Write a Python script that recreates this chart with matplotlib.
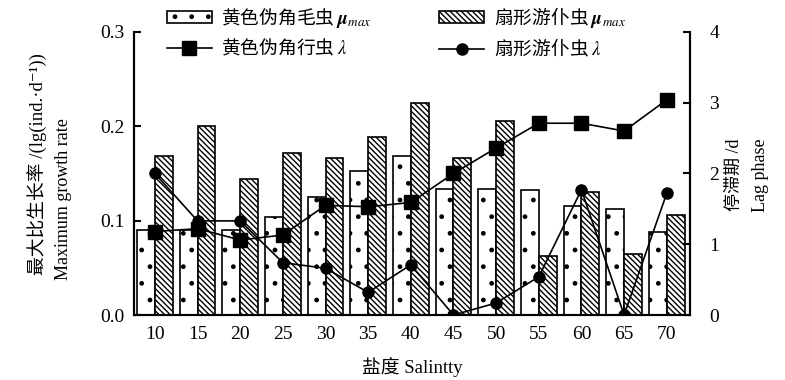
import numpy as np
import matplotlib.pyplot as plt

plt.rcParams['font.family'] = ['Liberation Serif', 'Noto Sans CJK SC', 'DejaVu Serif']
plt.rcParams['mathtext.fontset'] = 'stix'
plt.rcParams['hatch.linewidth'] = 1.0

# ---------- datos ----------
salinidad = [10, 15, 20, 25, 30, 35, 40, 45, 50, 55, 60, 65, 70]
mu_amarillo = [0.090, 0.090, 0.090, 0.104, 0.125, 0.153, 0.168, 0.134, 0.134, 0.132, 0.116, 0.112, 0.088]
mu_abanico = [0.169, 0.200, 0.144, 0.172, 0.166, 0.189, 0.225, 0.166, 0.206, 0.063, 0.130, 0.065, 0.106]
lag_amarillo = [1.18, 1.22, 1.06, 1.13, 1.55, 1.53, 1.59, 2.00, 2.36, 2.71, 2.71, 2.60, 3.04]
lag_abanico = [2.00, 1.33, 1.33, 0.74, 0.66, 0.32, 0.71, 0.0, 0.17, 0.54, 1.77, 0.0, 1.72]

x = np.arange(len(salinidad))
w = 0.42
CJK = ['Noto Sans CJK SC', 'DejaVu Sans']

fig = plt.figure(figsize=(7.85, 3.8), dpi=100)
ax = fig.add_axes([0.1707, 0.171, 0.708, 0.745])
ax2 = ax.twinx()

b1 = ax.bar(x - w / 2, mu_amarillo, w, color='white', edgecolor='black', hatch='.', lw=1.2)
b2 = ax.bar(x + w / 2, mu_abanico, w, color='white', edgecolor='black', hatch='\\\\\\\\\\\\', lw=1.2)

l1, = ax2.plot(x, lag_amarillo, '-s', color='black', ms=10, lw=1.2)
l2, = ax2.plot(x, lag_abanico, '-o', color='black', ms=8, lw=1.2)

ax.set_xlim(-0.49, 12.54)
ax.set_ylim(0, 0.3)
ax2.set_ylim(0, 4)
ax.set_yticks([0.0, 0.1, 0.2, 0.3])
ax.set_yticklabels(['0.0', '0.1', '0.2', '0.3'])
ax2.set_yticks([0, 1, 2, 3, 4])
ax.set_xticks(x)
ax.set_xticklabels([str(s) for s in salinidad])

for a in (ax, ax2):
    a.spines['top'].set_visible(False)
    for sp in a.spines.values():
        sp.set_linewidth(1.5)
    a.tick_params(direction='in', labelsize=14, width=1.5, length=5)
ax.tick_params(axis='x', length=0, pad=8)
ax.tick_params(axis='y', pad=7)
ax2.tick_params(axis='y', pad=14)

ax.set_xlabel('盐度 Salintty', fontsize=13.5, labelpad=10)

# etiquetas de eje en dos líneas
fig.text(0.047, 0.276, '最大比生长率 /(lg(ind.·d⁻¹))', rotation=90,
         ha='center', va='bottom', fontsize=13.5)
fig.text(0.081, 0.262, 'Maximum growth rate', rotation=90,
         ha='center', va='bottom', fontsize=13)
fig.text(0.936, 0.54, '停滞期 /d', rotation=90, ha='center', va='center', fontsize=13)
fig.text(0.969, 0.54, 'Lag phase', rotation=90, ha='center', va='center', fontsize=13)

leg = ax.legend([b1, l1, b2, l2],
                ['黄色伪角毛虫 $\\boldsymbol{\\mu}_{max}$', '黄色伪角行虫 $\\lambda$',
                 '扇形游仆虫 $\\boldsymbol{\\mu}_{max}$', '扇形游仆虫 $\\lambda$'],
                ncol=2, frameon=False, prop={'family': CJK, 'size': 13.5},
                loc='upper left', bbox_to_anchor=(0.059, 1.095),
                borderaxespad=0, borderpad=0,
                handlelength=2.4, handleheight=0.6,
                columnspacing=3.6, labelspacing=0.45, handletextpad=0.5)

fig.savefig('out.png', dpi=100)
